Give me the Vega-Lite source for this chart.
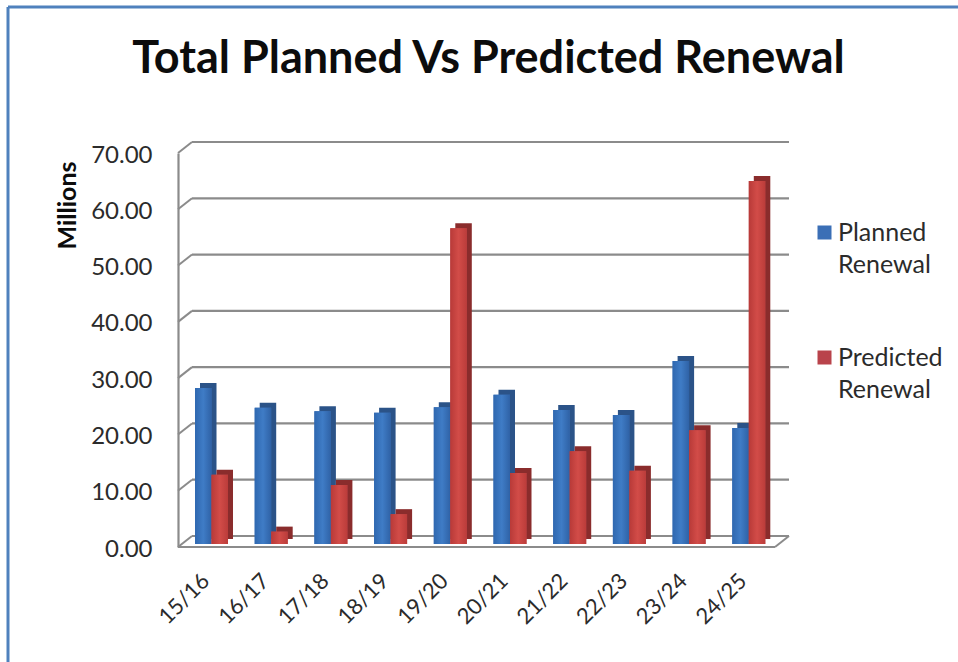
{
  "$schema": "https://vega.github.io/schema/vega-lite/v6.json",
  "width": 597,
  "height": 394,
  "autosize": "none",
  "padding": {"left": 178, "top": 153, "right": 183, "bottom": 115},
  "background": "white",
  "title": {
    "text": "Total Planned Vs Predicted Renewal",
    "font": "Lato",
    "fontWeight": "bold",
    "fontSize": 45,
    "color": "#0c0c0c",
    "anchor": "middle",
    "dx": 12,
    "offset": -76
  },
  "config": {"view": {"stroke": null}},
  "datasets": {
    "renewal": [
      {"period": "15/16", "series": "Planned Renewal", "value": 27.7},
      {"period": "16/17", "series": "Planned Renewal", "value": 24.2},
      {"period": "17/18", "series": "Planned Renewal", "value": 23.6},
      {"period": "18/19", "series": "Planned Renewal", "value": 23.3},
      {"period": "19/20", "series": "Planned Renewal", "value": 24.3},
      {"period": "20/21", "series": "Planned Renewal", "value": 26.5},
      {"period": "21/22", "series": "Planned Renewal", "value": 23.8},
      {"period": "22/23", "series": "Planned Renewal", "value": 22.9},
      {"period": "23/24", "series": "Planned Renewal", "value": 32.5},
      {"period": "24/25", "series": "Planned Renewal", "value": 20.6},
      {"period": "15/16", "series": "Predicted Renewal", "value": 12.3},
      {"period": "16/17", "series": "Predicted Renewal", "value": 2.2},
      {"period": "17/18", "series": "Predicted Renewal", "value": 10.5},
      {"period": "18/19", "series": "Predicted Renewal", "value": 5.3},
      {"period": "19/20", "series": "Predicted Renewal", "value": 56.1},
      {"period": "20/21", "series": "Predicted Renewal", "value": 12.6},
      {"period": "21/22", "series": "Predicted Renewal", "value": 16.5},
      {"period": "22/23", "series": "Predicted Renewal", "value": 13.0},
      {"period": "23/24", "series": "Predicted Renewal", "value": 20.2},
      {"period": "24/25", "series": "Predicted Renewal", "value": 64.5}
    ],
    "ticks": [
      {"tick": 0}, {"tick": 10}, {"tick": 20}, {"tick": 30},
      {"tick": 40}, {"tick": 50}, {"tick": 60}, {"tick": 70}
    ]
  },
  "resolve": {"scale": {"x": "independent"}},
  "layer": [
    {
      "data": {"name": "ticks"},
      "layer": [
        {
          "mark": {"type": "rule", "color": "#8b8b8b", "strokeWidth": 2.2, "xOffset": 14, "x2Offset": 14, "yOffset": -11, "y2Offset": -11},
          "encoding": {
            "x": {"datum": 0, "type": "quantitative", "scale": {"domain": [0, 1]}, "axis": null},
            "x2": {"datum": 1},
            "y": {"field": "tick", "type": "quantitative", "scale": {"domain": [0, 70], "nice": false},
              "axis": {
                "values": [0, 10, 20, 30, 40, 50, 60, 70],
                "format": ".2f",
                "grid": false,
                "ticks": false,
                "domainColor": "#8b8b8b",
                "domainWidth": 2.2,
                "labelFont": "Lato",
                "labelFontSize": 24,
                "labelColor": "#2b2b2b",
                "labelPadding": 26,
                "labelOffset": 2,
                "title": "Millions",
                "titleFont": "Lato",
                "titleFontWeight": "bold",
                "titleFontSize": 25,
                "titleColor": "#0c0c0c",
                "titleX": -98,
                "titleY": 52
              }
            }
          }
        },
        {
          "mark": {"type": "rule", "color": "#8b8b8b", "strokeWidth": 2, "x2Offset": 14, "y2Offset": -11},
          "encoding": {
            "x": {"datum": 0, "type": "quantitative", "scale": {"domain": [0, 1]}, "axis": null},
            "x2": {"datum": 0},
            "y": {"field": "tick", "type": "quantitative"},
            "y2": {"field": "tick"}
          }
        },
        {
          "transform": [{"filter": "datum.tick === 0"}],
          "mark": {"type": "rule", "color": "#8b8b8b", "strokeWidth": 2.2},
          "encoding": {
            "x": {"datum": 0, "type": "quantitative", "scale": {"domain": [0, 1]}, "axis": null},
            "x2": {"datum": 1},
            "y": {"field": "tick", "type": "quantitative"}
          }
        },
        {
          "transform": [{"filter": "datum.tick === 0"}],
          "mark": {"type": "rule", "color": "#8b8b8b", "strokeWidth": 2, "x2Offset": 14, "y2Offset": -11},
          "encoding": {
            "x": {"datum": 1, "type": "quantitative", "scale": {"domain": [0, 1]}, "axis": null},
            "x2": {"datum": 1},
            "y": {"field": "tick", "type": "quantitative"},
            "y2": {"field": "tick"}
          }
        }
      ]
    },
    {
      "data": {"name": "renewal"},
      "encoding": {
        "x": {
          "field": "period",
          "type": "nominal",
          "axis": {
            "title": null,
            "domain": false,
            "ticks": false,
            "labelAngle": -45,
            "labelAlign": "right",
            "labelBaseline": "middle",
            "labelFont": "Lato",
            "labelFontSize": 22,
            "labelColor": "#2b2b2b",
            "labelPadding": 30,
            "labelOffset": -2
          }
        },
        "y": {"field": "value", "type": "quantitative"}
      },
      "layer": [
        {
          "transform": [{"filter": "datum.series === 'Planned Renewal'"}],
          "mark": {"type": "bar", "size": 16.5, "color": "#2b5388", "xOffset": 0.4, "yOffset": -8, "y2Offset": -8}
        },
        {
          "transform": [{"filter": "datum.series === 'Planned Renewal'"}],
          "mark": {"type": "bar", "size": 16.5, "xOffset": -4.6, "yOffset": -3, "y2Offset": -3},
          "encoding": {
            "color": {
              "field": "series",
              "type": "nominal",
              "scale": {
                "domain": ["Planned Renewal", "Predicted Renewal"],
                "range": ["#3b6fb6", "#b9434b"]
              },
              "legend": {
                "title": null,
                "orient": "none",
                "legendX": 634,
                "legendY": 67,
                "symbolType": "square",
                "symbolSize": 196,
                "symbolStrokeWidth": 0,
                "labelExpr": "split(datum.label, ' ')",
                "labelFont": "Lato",
                "labelFontSize": 25,
                "labelColor": "#2b2b2b",
                "labelOffset": 1,
                "labelBaseline": "top",
                "rowPadding": 67,
                "encode": {"labels": {"update": {"lineHeight": {"value": 32}, "dy": {"value": -12}}}}
              }
            }
          }
        },
        {
          "transform": [{"filter": "datum.series === 'Planned Renewal'"}],
          "mark": {"type": "bar", "size": 16.5, "xOffset": -4.6, "yOffset": -3, "y2Offset": -3,
            "color": {"gradient": "linear", "x1": 0, "y1": 0, "x2": 1, "y2": 0, "stops": [{"offset": 0, "color": "#2f68b0"}, {"offset": 0.5, "color": "#3f7cc6"}, {"offset": 1, "color": "#2f62a6"}]}}
        },
        {
          "transform": [{"filter": "datum.series === 'Predicted Renewal'"}],
          "mark": {"type": "bar", "size": 16.5, "color": "#8a2c2c", "xOffset": 16.9, "yOffset": -8, "y2Offset": -8}
        },
        {
          "transform": [{"filter": "datum.series === 'Predicted Renewal'"}],
          "mark": {"type": "bar", "size": 16.5, "xOffset": 11.9, "yOffset": -3, "y2Offset": -3},
          "encoding": {
            "color": {"field": "series", "type": "nominal"}
          }
        },
        {
          "transform": [{"filter": "datum.series === 'Predicted Renewal'"}],
          "mark": {"type": "bar", "size": 16.5, "xOffset": 11.9, "yOffset": -3, "y2Offset": -3,
            "color": {"gradient": "linear", "x1": 0, "y1": 0, "x2": 1, "y2": 0, "stops": [{"offset": 0, "color": "#b83a38"}, {"offset": 0.5, "color": "#d24c48"}, {"offset": 1, "color": "#bb3c3a"}]}}
        }
      ]
    },
    {
      "data": {"values": [{"edge": "frame"}]},
      "layer": [
        {"mark": {"type": "rule", "color": "#4f81bd", "strokeWidth": 3},
         "encoding": {"x": {"value": -170}, "x2": {"value": 780}, "y": {"value": -146}}},
        {"mark": {"type": "rule", "color": "#4f81bd", "strokeWidth": 3},
         "encoding": {"x": {"value": -170}, "y": {"value": -146}, "y2": {"value": 509}}}
      ]
    }
  ]
}
